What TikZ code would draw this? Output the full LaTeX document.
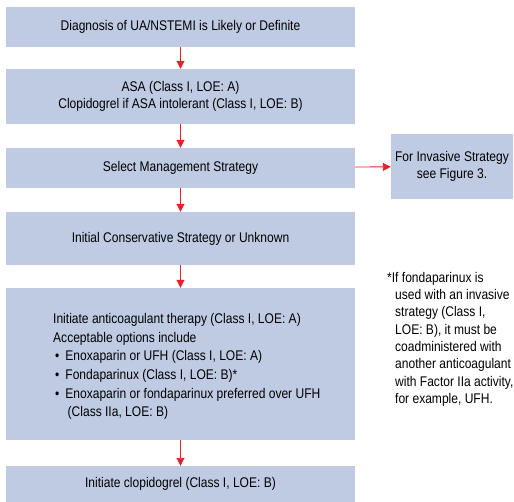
\documentclass[tikz,border=0pt]{standalone}
\usepackage{fontspec}
\setmainfont{Liberation Sans}[FakeStretch=0.86]
\usetikzlibrary{arrows.meta,positioning}
\definecolor{boxfill}{HTML}{BFCBE3}
\definecolor{arrred}{HTML}{E8202A}
\tikzset{
  box/.style={fill=boxfill,draw=none,inner sep=0pt,font=\fontsize{14}{17}\selectfont,align=center},
  arr/.style={draw=arrred,line width=0.9pt,-{Triangle[length=8pt,width=8pt]},arrred},
}
\begin{document}
\begin{tikzpicture}[x=1pt,y=-1pt]
\useasboundingbox (0,0) rectangle (514,502);
\node[box,minimum width=349pt,minimum height=40pt] (b1) at (180.5,27) {Diagnosis of UA/NSTEMI is Likely or Definite};
\node[box,minimum width=349pt,minimum height=55pt] (b2) at (180.5,96.5) {ASA (Class I, LOE: A)\\Clopidogrel if ASA intolerant (Class I, LOE: B)};
\node[box,minimum width=349pt,minimum height=40pt] (b3) at (180.5,168) {Select Management Strategy};
\node[box,minimum width=122pt,minimum height=65pt] (s) at (452,166.5) {For Invasive Strategy\\see Figure 3.};
\node[box,minimum width=349pt,minimum height=53pt] (b4) at (180.5,238.5) {Initial Conservative Strategy or Unknown};
\node[box,minimum width=349pt,minimum height=152pt] (b5) at (180.5,364) {};
\node[box,minimum width=349pt,minimum height=36pt] (b6) at (180.5,484) {Initiate clopidogrel (Class I, LOE: B)};
\node[anchor=north west,align=left,inner sep=0pt,font=\fontsize{14}{18.7}\selectfont] (t5) at (53,313) {Initiate anticoagulant therapy (Class I, LOE: A)\\
Acceptable options include\\
\hspace*{2pt}\textbullet\hspace{6pt}Enoxaparin or UFH (Class I, LOE: A)\\
\hspace*{2pt}\textbullet\hspace{6pt}Fondaparinux (Class I, LOE: B)*\\
\hspace*{2pt}\textbullet\hspace{6pt}Enoxaparin or fondaparinux preferred over UFH\\
\hspace*{14.5pt}(Class IIa, LOE: B)};
\node[anchor=north west,align=left,inner sep=0pt,font=\fontsize{14}{17.3}\selectfont] (fn) at (387,272) {*If fondaparinux is\\
\hspace*{8pt}used with an invasive\\
\hspace*{8pt}strategy (Class I,\\
\hspace*{8pt}LOE: B), it must be\\
\hspace*{8pt}coadministered with\\
\hspace*{8pt}another anticoagulant\\
\hspace*{8pt}with Factor IIa activity,\\
\hspace*{8pt}for example, UFH.};
\draw[arr] (b1) -- (b2);
\draw[arr] (b2) -- (b3);
\draw[arr] (b3) -- (b4);
\draw[arr] (b3) -- (s);
\draw[arr] (b4) -- (b5);
\draw[arr] (b5) -- (b6);
\end{tikzpicture}
\end{document}
